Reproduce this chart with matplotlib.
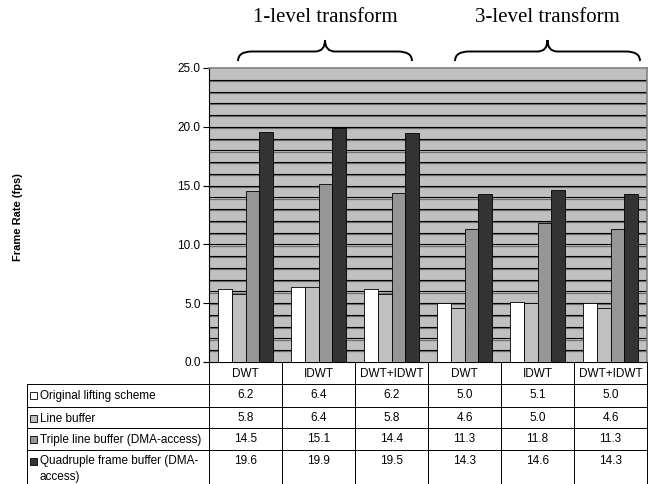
import matplotlib
matplotlib.use('Agg')
import matplotlib.pyplot as plt
import matplotlib.transforms as mtransforms
from matplotlib.path import Path
from matplotlib.patches import PathPatch, Rectangle
import numpy as np

plt.rcParams['font.family'] = ['Liberation Sans', 'DejaVu Sans']

categories = ['DWT', 'IDWT', 'DWT+IDWT', 'DWT', 'IDWT', 'DWT+IDWT']
series_names = ['Original lifting scheme', 'Line buffer',
                'Triple line buffer (DMA-access)', 'Quadruple frame buffer (DMA-\naccess)']
original = [6.2, 6.4, 6.2, 5.0, 5.1, 5.0]
line_buf = [5.8, 6.4, 5.8, 4.6, 5.0, 4.6]
triple = [14.5, 15.1, 14.4, 11.3, 11.8, 11.3]
quadruple = [19.6, 19.9, 19.5, 14.3, 14.6, 14.3]
groups = ['1-level transform', '3-level transform']

series = [original, line_buf, triple, quadruple]
colors = ['#ffffff', '#c0c0c0', '#969696', '#333333']

W, H = 655, 484
fig = plt.figure(figsize=(W / 100, H / 100), dpi=100)

# plot area in pixels
L, R, T, B = 209, 647, 68, 362
ax = fig.add_axes([L / W, 1 - B / H, (R - L) / W, (B - T) / H])
ax.set_facecolor('#c0c0c0')

n = len(categories)
x = np.arange(n)
bw = 0.19
for i, (vals, c) in enumerate(zip(series, colors)):
    ax.bar(x + (i - 1.5) * bw, vals, bw, color=c, edgecolor='black', linewidth=0.6, zorder=3)

# gridlines with a grey shadow below each
shadow = mtransforms.offset_copy(ax.get_yaxis_transform(), fig=fig, y=-1.2, units='dots')
for yv in range(1, 25):
    ax.plot([0, 1], [yv, yv], color='#707070', lw=0.9, transform=shadow, zorder=1)
    ax.plot([0, 1], [yv, yv], color='black', lw=0.8, transform=ax.get_yaxis_transform(), zorder=2)

ax.set_xlim(-0.5, n - 0.5)
ax.set_ylim(0, 25)
ax.set_yticks(np.arange(0, 26, 5))
ax.set_yticklabels([f'{v:.1f}' for v in np.arange(0, 26, 5)], fontsize=8.5)
ax.tick_params(axis='y', length=4, width=0.8, pad=2)
ax.set_xticks([])
for s in ['top', 'right']:
    ax.spines[s].set_color('#808080')
    ax.spines[s].set_linewidth(1.2)
ax.spines['left'].set_color('black')
ax.spines['left'].set_linewidth(0.8)
ax.spines['bottom'].set_color('black')
ax.spines['bottom'].set_linewidth(0.8)

fig.text(18 / W, 1 - 217 / H, 'Frame Rate (fps)', rotation=90, fontsize=8,
         fontweight='bold', ha='center', va='center')

# overlay for table and braces, pixel coordinates
ov = fig.add_axes([0, 0, 1, 1])
ov.set_xlim(0, W)
ov.set_ylim(H, 0)
ov.axis('off')

cw = (R - L) / n
tab_left = 27
rows_y = [362, 384, 407, 428, 450, 484]
lw = 0.7
for j in range(n + 1):
    ov.plot([L + j * cw, L + j * cw], [rows_y[0], H], color='black', lw=lw)
ov.plot([tab_left, tab_left], [rows_y[1], H], color='black', lw=lw)
for yy in rows_y[1:5]:
    ov.plot([tab_left, R], [yy, yy], color='black', lw=lw)

for j, cat in enumerate(categories):
    ov.text(L + (j + 0.5) * cw, (rows_y[0] + rows_y[1]) / 2 + 1, cat,
            ha='center', va='center', fontsize=8.5)

for i, (name, vals, c) in enumerate(zip(series_names, series, colors)):
    top = rows_y[i + 1]
    ov.add_patch(Rectangle((tab_left + 3, top + 8), 7, 7, facecolor=c,
                           edgecolor='black', lw=0.6))
    if i == 3:
        ov.text(tab_left + 13, top + 5, name, ha='left', va='top', fontsize=8.5, linespacing=1.45)
    else:
        ov.text(tab_left + 13, top + 12, name, ha='left', va='center', fontsize=8.5)
    for j, v in enumerate(vals):
        ov.text(L + (j + 0.5) * cw, top + 11, f'{v:.1f}', ha='center', va='center', fontsize=8.5)


def brace(x0, x1, ybot, ytop):
    xm = (x0 + x1) / 2
    ymid = (ybot + ytop) / 2 + 1
    r = 14
    verts = [(x0, ybot), (x0, ymid), (x0 + r, ymid), (x0 + r, ymid),
             (xm - 10, ymid), (xm - 10, ymid),
             (xm, ymid), (xm, ytop),
             (xm, ymid), (xm + 10, ymid),
             (xm + 10, ymid), (x1 - r, ymid),
             (x1 - r, ymid), (x1, ymid), (x1, ybot)]
    codes = [Path.MOVETO, Path.CURVE3, Path.CURVE3, Path.LINETO,
             Path.LINETO, Path.LINETO,
             Path.CURVE3, Path.CURVE3,
             Path.CURVE3, Path.CURVE3,
             Path.LINETO, Path.LINETO,
             Path.LINETO, Path.CURVE3, Path.CURVE3]
    ov.add_patch(PathPatch(Path(verts, codes), facecolor='none', edgecolor='black', lw=1.4))


brace_spans = [(238, 412), (455, 640)]
for (x0, x1), g in zip(brace_spans, groups):
    brace(x0, x1, 61, 40)
    ov.text((x0 + x1) / 2, 18, g, ha='center', va='center', fontsize=15,
            family=['Liberation Serif', 'DejaVu Serif'])

fig.savefig('out.png', dpi=100)
